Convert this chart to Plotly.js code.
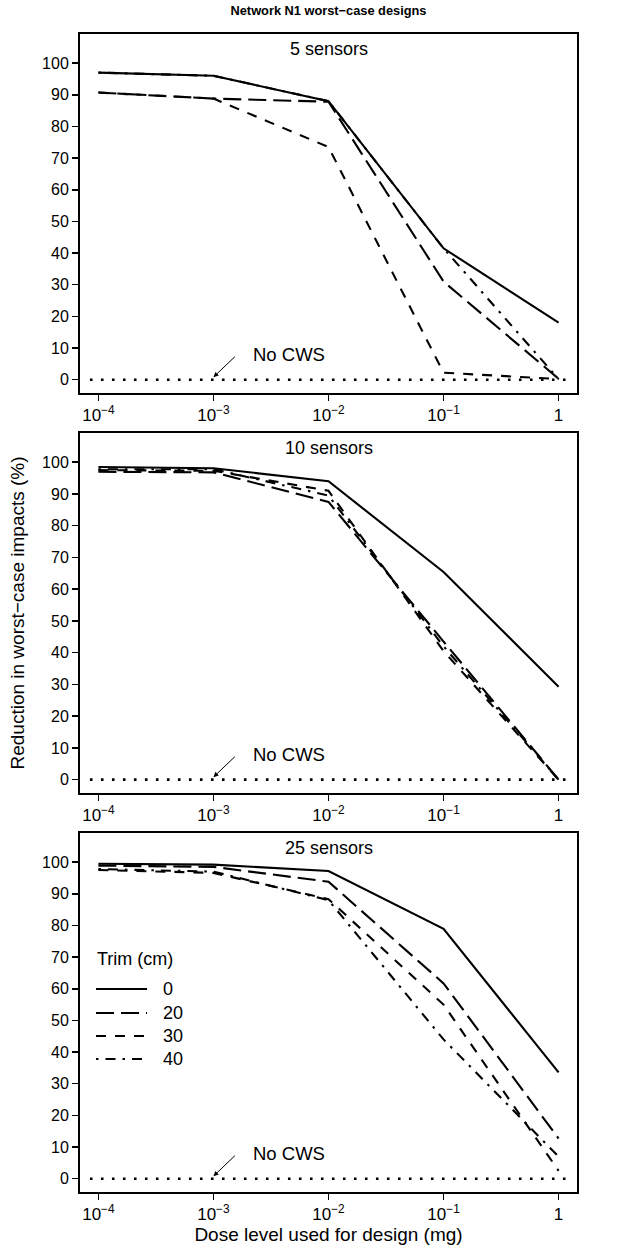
<!DOCTYPE html>
<html>
<head>
<meta charset="utf-8">
<script src="https://cdn.plot.ly/plotly-3.0.1.min.js"></script>
<style>html,body{margin:0;padding:0;background:#fff;}#chart{width:620px;height:1253px;}</style>
</head>
<body>
<div id="chart"></div>
<script>
// ---- data ----
const doses = [1e-4, 1e-3, 1e-2, 1e-1, 1];
const doseTickLabels = ['10<sup>\u22124</sup>', '10<sup>\u22123</sup>', '10<sup>\u22122</sup>', '10<sup>\u22121</sup>', '1'];
const yTicks = [0, 10, 20, 30, 40, 50, 60, 70, 80, 90, 100];
const trimLabels = ['0', '20', '30', '40'];
const panelLabels = ['5 sensors', '10 sensors', '25 sensors'];

// 5 sensors
const s5_trim0  = [97.0, 96.0, 88.0, 41.5, 18.0];
const s5_trim20 = [90.7, 88.8, 87.8, 31.0, 0.3];
const s5_trim30 = [90.7, 88.8, 73.5, 2.2, 0.2];
const s5_trim40 = [97.0, 96.0, 88.0, 41.5, 0.2];
// 10 sensors
const s10_trim0  = [98.5, 98.1, 94.0, 65.4, 29.3];
const s10_trim20 = [97.0, 96.8, 87.5, 43.5, 0.0];
const s10_trim30 = [97.5, 97.3, 91.0, 40.5, 0.0];
const s10_trim40 = [97.8, 97.8, 89.5, 42.0, 0.0];
// 25 sensors
const s25_trim0  = [99.5, 99.2, 97.2, 78.9, 33.6];
const s25_trim20 = [98.9, 98.5, 93.8, 61.7, 12.7];
const s25_trim30 = [97.5, 96.6, 88.3, 55.0, 2.5];
const s25_trim40 = [97.8, 97.0, 88.0, 44.0, 7.0];

const panels = [
  [s5_trim0, s5_trim20, s5_trim30, s5_trim40],
  [s10_trim0, s10_trim20, s10_trim30, s10_trim40],
  [s25_trim0, s25_trim20, s25_trim30, s25_trim40]
];

// ---- styles ----
const FONT = 'Liberation Sans, Arial, Helvetica, sans-serif';
const dashes = ['solid', '18px,7px', '10px,9px', '2.5px,7px,10px,7px'];
const LW = 2.1;
const W = 620, H = 1253;
const M = {l: 80, r: 43, t: 34, b: 61};
const plotW = W - M.l - M.r, plotH = H - M.t - M.b;
const px2x = px => (px - M.l) / plotW;
const px2y = py => (H - M.b - py) / plotH;

const traces = [];
panels.forEach((series, p) => {
  const ax = p === 0 ? '' : String(p + 1);
  series.forEach((vals, i) => {
    traces.push({
      type: 'scatter', mode: 'lines',
      x: doses, y: vals,
      xaxis: 'x' + ax, yaxis: 'y' + ax,
      name: trimLabels[i],
      showlegend: false,
      line: {color: '#000', width: LW, dash: dashes[i]},
      hoverinfo: 'skip'
    });
  });
});

const domains = [[px2y(393), 1], [px2y(793), px2y(433)], [0, px2y(833)]];
const layout = {
  width: W, height: H,
  margin: M,
  paper_bgcolor: '#fff', plot_bgcolor: '#fff',
  font: {family: FONT, size: 16, color: '#000'},
  title: {
    text: '<b>Network N1 worst\u2212case designs</b>',
    font: {family: FONT, size: 12.8, color: '#000'},
    x: 0.5, xref: 'paper', xanchor: 'center',
    y: 1 - 11 / H, yref: 'container', yanchor: 'middle'
  },
  showlegend: false,
  shapes: [],
  annotations: []
};

domains.forEach((dom, p) => {
  const ax = p === 0 ? '' : String(p + 1);
  layout['xaxis' + ax] = {
    type: 'log', range: [-4.16, 0.16], domain: [0, 1], anchor: 'y' + ax,
    tickvals: doses, ticktext: doseTickLabels,
    ticks: 'outside', ticklen: 6, tickwidth: 1.5, tickcolor: '#000',
    showline: true, mirror: true, linewidth: 2, linecolor: '#000',
    showgrid: false, zeroline: false,
    tickfont: {family: FONT, size: 17, color: '#000'},
    title: p === 2 ? {text: 'Dose level used for design (mg)', font: {family: FONT, size: 19, color: '#000'}, standoff: 3} : {text: ''}
  };
  layout['yaxis' + ax] = {
    range: [-4.2, 109.2], domain: dom, anchor: 'x' + ax,
    tickvals: yTicks,
    ticks: 'outside', ticklen: 6, tickwidth: 1.5, tickcolor: '#000',
    showline: true, mirror: true, linewidth: 2, linecolor: '#000',
    showgrid: false, zeroline: false,
    tickfont: {family: FONT, size: 16, color: '#000'},
    title: p === 1 ? {text: 'Reduction in worst\u2212case impacts (%)', font: {family: FONT, size: 19, color: '#000'}, standoff: 12} : {text: ''}
  };
  // No CWS reference line
  layout.shapes.push({
    type: 'line', xref: 'x' + ax + ' domain', yref: 'y' + ax,
    x0: 0.02, x1: 0.99, y0: 0, y1: 0,
    line: {color: '#000', width: 2.6, dash: '2.6px,8.4px'}
  });
  // panel label
  layout.annotations.push({
    text: panelLabels[p], xref: 'x' + ax + ' domain', yref: 'y' + ax + ' domain',
    x: 0.5, y: 1, xanchor: 'center', yanchor: 'top', yshift: -3,
    showarrow: false, font: {family: FONT, size: 18, color: '#000'}
  });
  // No CWS text
  layout.annotations.push({
    text: 'No CWS', xref: 'x' + ax, yref: 'y' + ax,
    x: -2.67, y: 7.9, xanchor: 'left', yanchor: 'middle',
    showarrow: false, font: {family: FONT, size: 18.5, color: '#000'}
  });
  // arrow
  layout.annotations.push({
    text: '', xref: 'x' + ax, yref: 'y' + ax,
    x: -3, y: 0.8, ax: 23, ay: -22, axref: 'pixel', ayref: 'pixel',
    showarrow: true, arrowhead: 2, arrowsize: 1, arrowwidth: 1, arrowcolor: '#000'
  });
});

// ---- legend (drawn inside the 25-sensor panel, R style) ----
const legX0 = px2x(96), legX1 = px2x(147), legTextX = px2x(161);
const legRowsPx = [989, 1013, 1036, 1059];
layout.annotations.push({
  text: 'Trim (cm)', xref: 'paper', yref: 'paper',
  x: px2x(95), y: px2y(959), xanchor: 'left', yanchor: 'middle',
  showarrow: false, font: {family: FONT, size: 18, color: '#000'}
});
trimLabels.forEach((lab, i) => {
  const yy = px2y(legRowsPx[i]);
  layout.shapes.push({
    type: 'line', xref: 'paper', yref: 'paper',
    x0: legX0, x1: legX1, y0: yy, y1: yy,
    line: {color: '#000', width: LW, dash: dashes[i]}
  });
  layout.annotations.push({
    text: lab, xref: 'paper', yref: 'paper',
    x: legTextX, y: yy, xanchor: 'left', yanchor: 'middle',
    showarrow: false, font: {family: FONT, size: 18, color: '#000'}
  });
});

Plotly.newPlot('chart', traces, layout, {staticPlot: true, displayModeBar: false});
</script>
</body>
</html>
